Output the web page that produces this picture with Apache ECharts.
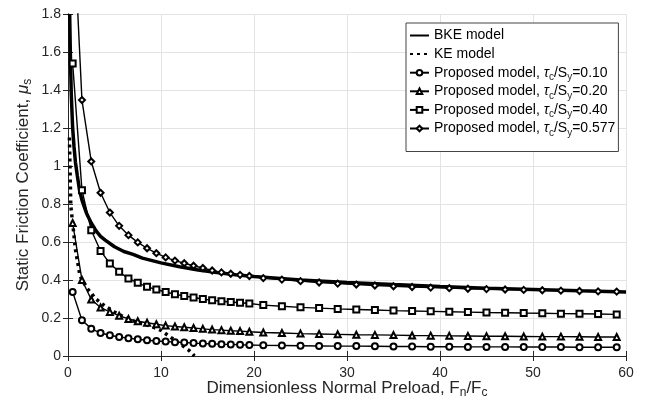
<!DOCTYPE html>
<html>
<head>
<meta charset="utf-8">
<script src="https://cdn.jsdelivr.net/npm/echarts@6/dist/echarts.min.js"></script>
<style>
html, body { margin: 0; padding: 0; background: #fff; }
#chart { width: 646px; height: 404px; }
</style>
</head>
<body>
<div id="chart"></div>
<script>
// marker positions shared by the four "proposed model" curves
const markerX = [0.5, 1.5, 2.5, 3.5, 4.5, 5.5, 6.5, 7.5, 8.5, 9.5,
  10.5, 11.5, 12.5, 13.5, 14.5, 15.5, 16.5, 17.5, 18.5, 19.5,
  21, 23, 25, 27, 29, 31, 33, 35, 37, 39,
  41, 43, 45, 47, 49, 51, 53, 55, 57, 59]

const tc010 = [0.337, 0.188, 0.144, 0.121, 0.109, 0.100, 0.094, 0.088, 0.083, 0.079,
  0.076, 0.073, 0.071, 0.068, 0.066, 0.064, 0.062, 0.061, 0.059, 0.058,
  0.056, 0.055, 0.054, 0.053, 0.052, 0.052, 0.051, 0.050, 0.050, 0.049,
  0.049, 0.048, 0.048, 0.048, 0.047, 0.047, 0.047, 0.046, 0.046, 0.046]

const tc020 = [0.700, 0.400, 0.297, 0.255, 0.232, 0.212, 0.195, 0.183, 0.175, 0.167,
  0.160, 0.155, 0.151, 0.147, 0.143, 0.139, 0.136, 0.133, 0.131, 0.128,
  0.124, 0.121, 0.118, 0.116, 0.114, 0.112, 0.111, 0.110, 0.108, 0.107,
  0.106, 0.105, 0.104, 0.104, 0.103, 0.102, 0.102, 0.101, 0.100, 0.100]

const tc040 = [1.540, 0.873, 0.662, 0.553, 0.487, 0.443, 0.408, 0.385, 0.364, 0.350,
  0.337, 0.325, 0.316, 0.308, 0.300, 0.293, 0.288, 0.284, 0.280, 0.276,
  0.268, 0.262, 0.256, 0.252, 0.248, 0.245, 0.242, 0.239, 0.237, 0.235,
  0.233, 0.231, 0.229, 0.228, 0.226, 0.225, 0.223, 0.222, 0.221, 0.219]

const tc0577 = [2.370, 1.347, 1.024, 0.859, 0.755, 0.685, 0.636, 0.598, 0.567, 0.541,
  0.519, 0.502, 0.488, 0.475, 0.463, 0.450, 0.440, 0.433, 0.427, 0.421,
  0.410, 0.402, 0.394, 0.387, 0.381, 0.376, 0.371, 0.367, 0.363, 0.360,
  0.357, 0.354, 0.352, 0.350, 0.348, 0.346, 0.344, 0.342, 0.340, 0.339]

const bkeX = [0.18, 0.25, 0.35, 0.5, 0.65, 0.8, 1, 1.25, 1.5, 2, 2.5, 3, 3.5, 4, 5, 6, 7, 8,
  10, 12, 14, 16, 18, 20, 25, 30, 35, 40, 45, 50, 55, 60]
const bkeY = [1.80, 1.60, 1.38, 1.20, 1.10, 1.02, 0.95, 0.87, 0.82, 0.75, 0.70, 0.66, 0.63, 0.61,
  0.575, 0.55, 0.535, 0.515, 0.49, 0.47, 0.453, 0.44, 0.428, 0.418, 0.40, 0.387, 0.376, 0.366,
  0.357, 0.35, 0.343, 0.337]

const keX = [0.15, 0.3, 0.5, 0.8, 1.3, 2, 3, 4, 5, 6, 7, 8, 9, 10, 11, 12, 13, 13.6]
const keY = [1.15, 0.79, 0.70, 0.56, 0.42, 0.36, 0.30, 0.262, 0.232, 0.205, 0.185, 0.17,
  0.155, 0.135, 0.10, 0.065, 0.03, 0.0]

const proposedNames = ['0.10', '0.20', '0.40', '0.577']
const proposedData = [tc010, tc020, tc040, tc0577]
const proposedSymbols = ['emptyCircle', 'emptyTriangle', 'emptyRect', 'emptyDiamond']

const font = 'Liberation Sans, Arial, sans-serif'
const ink = '#262626'

const pairs = (xs, ys) => xs.map((x, i) => [x, ys[i]])

const series = [
  {
    name: 'BKE model',
    type: 'line',
    data: pairs(bkeX, bkeY),
    showSymbol: false,
    symbol: 'none',
    lineStyle: { color: '#000', width: 3.5 },
    itemStyle: { color: '#000' },
    z: 3,
  },
  {
    name: 'KE model',
    type: 'line',
    data: pairs(keX, keY),
    showSymbol: false,
    symbol: 'none',
    lineStyle: { color: '#000', width: 3.5, type: [3, 4] },
    itemStyle: { color: '#000' },
    z: 3,
  },
]

proposedNames.forEach((tag, i) => {
  series.push({
    name: 'Proposed model, tc/Sy=' + tag,
    type: 'line',
    data: pairs(markerX, proposedData[i]),
    symbol: proposedSymbols[i],
    symbolSize: 6,
    showAllSymbol: true,
    lineStyle: { color: '#000', width: 1.4 },
    itemStyle: { color: '#000', borderWidth: 1.3 },
    z: 4,
  })
})

const legendItems = series.map(s => (
  s.symbol === 'none'
    ? { name: s.name, itemStyle: { opacity: 0 } }
    : { name: s.name }
))

// subscript style: small token pushed down by top padding
const subStyle = (size, drop) => ({
  fontFamily: font, fontSize: size, color: ink, padding: [drop, 0, 0, 0],
})

const chart = echarts.init(document.getElementById('chart'))
chart.setOption({
  animation: false,
  backgroundColor: '#fff',
  grid: { left: 68, right: 20, top: 14, bottom: 48, containLabel: false, outerBoundsMode: 'none' },
  legend: {
    orient: 'vertical',
    left: 406,
    top: 23,
    itemWidth: 19,
    itemHeight: 7,
    itemGap: -0.4,
    padding: [3, 3, 13.5, 3],
    backgroundColor: '#fff',
    borderColor: '#444',
    borderWidth: 1,
    borderRadius: 0,
    textStyle: {
      fontFamily: font, fontSize: 14, color: '#000', lineHeight: 19,
      rich: {
        it: { fontFamily: font, fontSize: 14, fontStyle: 'italic', color: '#000', lineHeight: 19 },
        sub: subStyle(10, 9),
      },
    },
    formatter: name => {
      if (name.indexOf('Proposed') !== 0) return name
      const tag = name.split('=')[1]
      return 'Proposed model, {it|τ}{sub|c}/S{sub|y}=' + tag
    },
    data: legendItems,
  },
  xAxis: [
    {
      type: 'value',
      min: 0,
      max: 60,
      interval: 10,
      name: 'Dimensionless Normal Preload, F{sub|n}/F{sub|c}',
      nameLocation: 'middle',
      nameGap: 23,
      nameMoveOverlap: false,
      nameTextStyle: {
        fontFamily: font, fontSize: 17, color: ink, lineHeight: 18,
        rich: { sub: subStyle(12, 10) },
      },
      axisLine: { show: true, lineStyle: { color: ink, width: 1 } },
      axisTick: { show: true, inside: true, length: 5, lineStyle: { color: ink } },
      axisLabel: { fontFamily: font, fontSize: 14, color: ink, margin: 10 },
      splitLine: { show: true, lineStyle: { color: '#e3e3e3', width: 1 } },
    },
    {
      type: 'value',
      position: 'top',
      min: 0,
      max: 60,
      interval: 10,
      axisLine: { show: true, lineStyle: { color: ink, width: 1 } },
      axisTick: { show: true, inside: true, length: 5, lineStyle: { color: ink } },
      axisLabel: { show: false },
      splitLine: { show: false },
    },
  ],
  yAxis: [
    {
      type: 'value',
      min: 0,
      max: 1.8,
      interval: 0.2,
      name: 'Static Friction Coefficient, {it|μ}{sub|s}',
      nameLocation: 'middle',
      nameGap: 36,
      nameMoveOverlap: false,
      nameTextStyle: {
        fontFamily: font, fontSize: 17, color: ink, lineHeight: 18,
        rich: {
          it: { fontFamily: font, fontSize: 17, fontStyle: 'italic', color: ink, lineHeight: 18 },
          sub: subStyle(12, 10),
        },
      },
      axisLine: { show: true, lineStyle: { color: ink, width: 1 } },
      axisTick: { show: true, inside: true, length: 5, lineStyle: { color: ink } },
      axisLabel: { fontFamily: font, fontSize: 14, color: ink, margin: 7 },
      splitLine: { show: true, lineStyle: { color: '#e3e3e3', width: 1 } },
    },
    {
      type: 'value',
      position: 'right',
      min: 0,
      max: 1.8,
      interval: 0.2,
      axisLine: { show: true, lineStyle: { color: ink, width: 1 } },
      axisTick: { show: true, inside: true, length: 5, lineStyle: { color: ink } },
      axisLabel: { show: false },
      splitLine: { show: false },
    },
  ],
  series: series,
})
</script>
</body>
</html>
